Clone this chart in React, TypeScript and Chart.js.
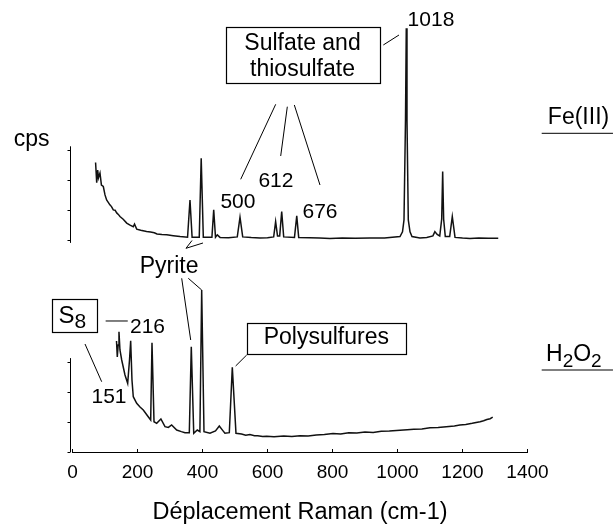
import React, { useEffect, useRef } from "react";
import { Chart, registerables } from "chart.js";

Chart.register(...registerables);

// ---------- data ----------
const xTickValues = [0, 200, 400, 600, 800, 1000, 1200, 1400];
const xTitle = "Déplacement Raman (cm-1)";
const yTitle = "cps";
const seriesNames = ["Fe(III)", "H2O2"];

// Fe(III) spectrum: Raman shift (cm-1) and intensity (cps, own zero)
const feShift = [
  71, 74.5, 77.5, 80, 84.6, 89, 94.8, 100, 105, 110, 115, 120, 125.5, 131, 136, 141, 146, 156, 166.8, 177, 187, 190.8, 197.5,
  210, 228, 240, 251.7, 260, 275, 290, 310, 331, 354, 361.5, 368, 390, 396, 402.5, 429, 434.5, 440, 445.5, 454,
  480, 507, 515.4, 523.7, 550, 577, 600, 619, 625, 630.8, 637.5, 643.7, 649.8, 683, 690, 696, 730, 760, 792, 830,
  870, 915, 960, 1007.7, 1015.4, 1020, 1024.6, 1027, 1029.2, 1033.2, 1038.5, 1044.6, 1069, 1090, 1109, 1115, 1122,
  1130, 1136, 1139, 1142, 1147, 1160.6, 1168.6, 1177, 1200, 1223, 1250, 1280, 1310,
];
const feCps = [
  2590, 1920, 2340, 2080, 2240, 1840, 1790, 1510, 1340, 1260, 1180, 1120, 1010, 1000, 910, 860, 790, 700, 570, 500, 450, 540, 370,
  330, 290, 270, 250, 210, 190, 180, 150, 120, 100, 1340, 100, 100, 2730, 100, 100, 1010, 100, 177, 93,
  80, 110, 767, 110, 90, 77, 85, 110, 620, 143, 143, 953, 110, 93, 810, 93, 80, 70, 60, 75,
  65, 77, 70, 120, 277, 677, 4010, 7067, 4010, 677, 277, 120, 77, 90, 143, 287, 193,
  143, 700, 2287, 700, 127, 127, 787, 93, 70, 60, 75, 65, 67,
];

// H2O2 spectrum: Raman shift (cm-1) and intensity (cps)
const h2o2Shift = [
  135.4, 137.8, 140.6, 143, 146, 151.4, 161.5, 169.8, 175.4, 179, 183, 187, 197.5, 207.7, 217.8, 233, 240.6, 244.6,
  250.8, 259, 272, 284.6, 295, 305, 320.6, 335, 346, 359.4, 365.5, 373, 384, 392, 397.5, 404.6, 423, 440, 451.7,
  462, 469, 482.5, 491.7, 503, 520, 533, 546, 560, 570, 585, 597.5, 620, 650, 675, 700, 725, 750, 775, 801.5,
  825, 850, 875, 900, 925, 950, 975, 1007.7, 1030, 1050, 1075, 1100, 1125, 1150, 1175, 1192, 1210, 1230, 1254,
  1265, 1275, 1285, 1293,
];
const h2o2Cps = [
  3700, 3167, 3567, 4010, 3400, 3067, 2567, 2290, 3067, 3710, 2400, 1843, 1623, 1500, 1400, 1177, 1067, 3643,
  1010, 957, 1100, 843, 820, 900, 733, 680, 643, 643, 3510, 623, 733, 677, 5400, 677, 623, 700, 867,
  720, 623, 643, 2823, 623, 600, 560, 580, 540, 545, 515, 525, 505, 530, 515, 540, 530, 565, 580, 615,
  600, 645, 630, 665, 650, 690, 700, 725, 745, 760, 770, 805, 815, 840, 870, 900, 915, 955, 1010,
  1040, 1085, 1110, 1160,
];

const feOffset = 7060; // vertical stacking offset of the Fe(III) trace
const yAxisTicks = [0, 1000, 2000, 3000];

// ---------- annotations (data coordinates) ----------
const FONT = "'Liberation Sans', Arial, sans-serif";
const WORD = 23;
const NUM = 21;

type Txt = { t: string; x: number; y: number; size: number };
const texts: Txt[] = [
  { t: "Sulfate and", x: 707.7, y: 13400, size: WORD },
  { t: "thiosulfate", x: 707.7, y: 12533, size: WORD },
  { t: "500", x: 509, y: 8123, size: NUM },
  { t: "612", x: 626, y: 8843, size: NUM },
  { t: "676", x: 761.5, y: 7800, size: NUM },
  { t: "1018", x: 1103, y: 14200, size: NUM },
  { t: yTitle, x: -125.5, y: 10210, size: WORD },
  { t: "Pyrite", x: 297, y: 5967, size: WORD },
  { t: "216", x: 230.8, y: 3967, size: NUM },
  { t: "151", x: 112.3, y: 1633, size: NUM },
  { t: "Polysulfures", x: 781, y: 3600, size: WORD },
  { t: seriesNames[0], x: 1557, y: 10917, size: WORD },
];
const boxes = [
  [471.4, 14177, 944, 12323],
  [-62.2, 5100, 77.5, 4010],
  [536, 4310, 1026, 3290],
];
const leaders = [
  [625.2, 11590, 517.5, 9090],
  [661, 11510, 640.6, 9867],
  [682.5, 11567, 761.5, 8900],
  [956.3, 13567, 1004.6, 13900],
  [336, 5790, 363.7, 3733],
  [356.3, 5790, 397.5, 5400],
  [102, 4367, 170, 4367],
  [38.5, 3600, 89.8, 2343],
  [536, 3233, 502, 2867],
  [1443.7, 10623, 1663, 10623],
  [1443.7, 2733, 1663, 2733],
];
// "<" mark pointing at the Fe(III) pyrite peaks: arm end, vertex, arm end
const pyriteVee = [
  [367.7, 7050],
  [349.2, 6790],
  [401.5, 6967],
];

const App = () => {
  const ref = useRef<HTMLCanvasElement>(null);
  useEffect(() => {
    if (!ref.current) return;
    const annoPlugin = {
      id: "annos",
      afterDraw(chart: any) {
        const { ctx } = chart;
        const xs = chart.scales.x;
        const ys = chart.scales.y;
        const X = (v: number) => xs.getPixelForValue(v);
        const Y = (v: number) => ys.getPixelForValue(v);
        ctx.save();
        ctx.strokeStyle = "#000";
        ctx.fillStyle = "#000";
        ctx.lineWidth = 1;
        // small y axes for each trace
        for (const off of [feOffset, 0]) {
          const ax = Math.round(X(-8)) + 0.5;
          ctx.beginPath();
          ctx.moveTo(ax, Y(off - (off ? 90 : 0)));
          ctx.lineTo(ax, Y(off + 3130));
          for (const t of yAxisTicks) {
            const ty = Math.round(Y(off + t)) + 0.5;
            ctx.moveTo(ax, ty);
            ctx.lineTo(ax - 3, ty);
          }
          ctx.stroke();
        }
        // leader lines
        ctx.beginPath();
        for (const [x1, y1, x2, y2] of leaders) {
          ctx.moveTo(X(x1), Y(y1));
          ctx.lineTo(X(x2), Y(y2));
        }
        pyriteVee.forEach(([vx, vy], i) => {
          if (i === 0) ctx.moveTo(X(vx), Y(vy));
          else ctx.lineTo(X(vx), Y(vy));
        });
        ctx.stroke();
        // boxes
        ctx.lineWidth = 1.2;
        for (const [x1, y1, x2, y2] of boxes) {
          ctx.strokeRect(
            Math.round(X(x1)) + 0.5,
            Math.round(Y(y1)) + 0.5,
            Math.round(X(x2) - X(x1)),
            Math.round(Y(y2) - Y(y1))
          );
        }
        // texts
        ctx.textBaseline = "alphabetic";
        ctx.textAlign = "center";
        for (const t of texts) {
          ctx.font = `${t.size}px ${FONT}`;
          ctx.fillText(t.t, X(t.x), Y(t.y));
        }
        ctx.textAlign = "left";
        // S8
        let sx = X(-43);
        ctx.font = `24px ${FONT}`;
        ctx.fillText("S", sx, Y(4310));
        sx += ctx.measureText("S").width;
        ctx.font = `21px ${FONT}`;
        ctx.fillText("8", sx, Y(4133));
        // H2O2
        let hx = X(1457);
        const hb = Y(3043),
          sb = Y(2843);
        const parts: [string, boolean][] = [
          ["H", false],
          ["2", true],
          ["O", false],
          ["2", true],
        ];
        for (const [s, sub] of parts) {
          ctx.font = `${sub ? 19 : 23}px ${FONT}`;
          ctx.fillText(s, hx, sub ? sb : hb);
          hx += ctx.measureText(s).width;
        }
        ctx.restore();
      },
    };

    const chart = new Chart(ref.current, {
      type: "line",
      data: {
        datasets: [
          {
            label: seriesNames[0],
            data: feShift.map((x, i) => ({ x, y: feCps[i] + feOffset })),
            borderColor: "#111",
            borderWidth: 1.5,
            pointRadius: 0,
            tension: 0,
            fill: false,
          },
          {
            label: seriesNames[1],
            data: h2o2Shift.map((x, i) => ({ x, y: h2o2Cps[i] })),
            borderColor: "#111",
            borderWidth: 1.5,
            pointRadius: 0,
            tension: 0,
            fill: false,
          },
        ],
      },
      options: {
        animation: false,
        responsive: true,
        maintainAspectRatio: false,
        layout: { padding: { left: 72.5, right: 85.5, top: 2, bottom: 0 } },
        plugins: { legend: { display: false }, tooltip: { enabled: false } },
        scales: {
          x: {
            type: "linear",
            min: 0,
            max: 1400,
            afterBuildTicks: (s: any) => {
              s.ticks = xTickValues.map((v) => ({ value: v }));
            },
            afterFit: (s: any) => {
              s.height = 77;
            },
            grid: { drawOnChartArea: false, drawTicks: true, tickLength: -3, color: "#000" },
            border: { display: true, color: "#000", width: 1 },
            ticks: {
              color: "#000",
              padding: 12.6,
              font: { family: FONT, size: 19 },
              maxRotation: 0,
              callback: (v: any) => String(v),
            },
            title: {
              display: true,
              text: xTitle,
              color: "#000",
              font: { family: FONT, size: 23.5, lineHeight: 1.2 },
              padding: { top: 0, bottom: 2 },
            },
          },
          y: { display: false, min: 0, max: 15000 },
        },
      },
      plugins: [annoPlugin],
    });
    return () => chart.destroy();
  }, []);
  return (
    <div style={{ position: "fixed", left: 0, top: 0, width: 613, height: 529, background: "#fff" }}>
      <canvas ref={ref} />
    </div>
  );
};

export default App;
